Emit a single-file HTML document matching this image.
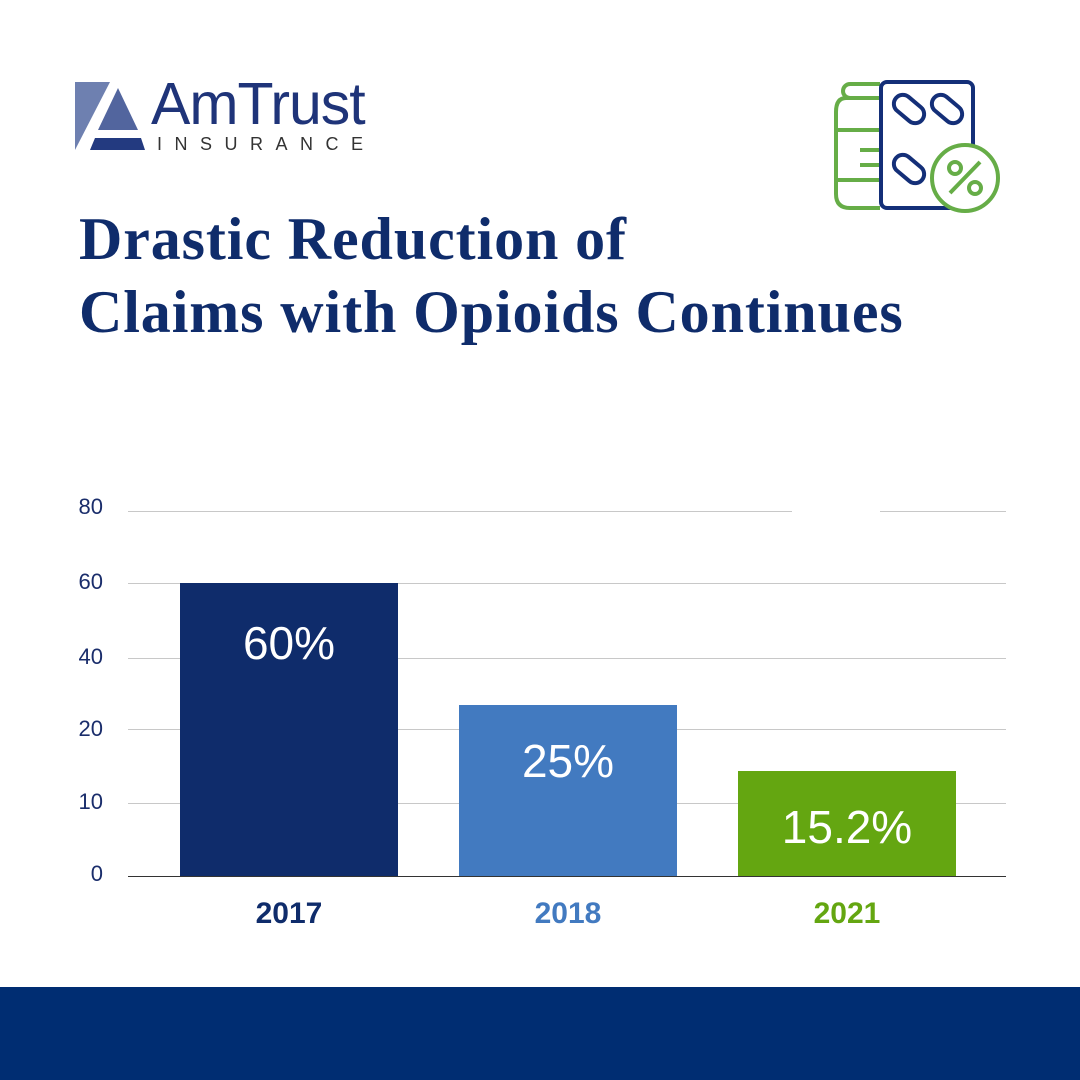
<!DOCTYPE html>
<html><head><style>
body{margin:0;width:1080px;height:1080px;background:#fff;position:relative;overflow:hidden;font-family:"Liberation Sans",sans-serif}
.t{position:absolute;left:79px;font-family:"Liberation Serif",serif;font-weight:bold;color:#0f2c6b;font-size:60px;line-height:73px;top:203px;letter-spacing:0.9px}
.g{position:absolute;left:128px;width:878px;height:1px;background:#c8c8c8}
.yl{position:absolute;left:60px;width:43px;text-align:right;color:#1a2d6b;font-size:22px}
.bar{position:absolute;width:218px;color:#fff;text-align:center;font-size:46px}
.xl{position:absolute;width:218px;text-align:center;font-size:30px;font-weight:bold;top:897px}
</style></head><body>
<svg style="position:absolute;left:0;top:0" width="1080" height="240">
<polygon points="75,82 110,82 75,150" fill="#6e80b0"/>
<polygon points="118,88 138,130 98,130" fill="#52659e"/>
<polygon points="95,138 141,138 145,150 90,150" fill="#233a80"/>
<text x="151" y="124" font-family="Liberation Sans" font-size="59" fill="#1f3479" letter-spacing="-1">AmTrust</text>
<text x="157" y="150" font-family="Liberation Sans" font-size="18" fill="#333" letter-spacing="12.5">INSURANCE</text>
<g fill="none" stroke-width="4">
<path d="M880,84 h-30 a6,6 0 0 0 0,14 M880,98 h-34 q-10,0 -10,14 v82 q0,14 14,14 h30 M836,130 h44 M836,180 h44 M860,150 h20 M860,165 h20" stroke="#66ad47"/>
<rect x="881" y="82" width="92" height="126" rx="6" stroke="#142f78" fill="#fff"/>
<g stroke="#142f78"><rect x="892" y="100" width="34" height="18" rx="9" transform="rotate(40 909 109)"/><rect x="930" y="100" width="34" height="18" rx="9" transform="rotate(40 947 109)"/><rect x="892" y="160" width="34" height="18" rx="9" transform="rotate(40 909 169)"/></g>
<circle cx="965" cy="178" r="33" stroke="#66ad47" fill="#fff"/>
<path d="M950,193 L980,162" stroke="#66ad47"/><circle cx="955" cy="168" r="6" stroke="#66ad47"/><circle cx="975" cy="188" r="6" stroke="#66ad47"/>
</g></svg>
<div class="t">Drastic Reduction of<br>Claims with Opioids Continues</div>
<div class="g" style="top:511px;width:664px"></div><div class="g" style="top:511px;left:880px;width:126px"></div>
<div class="g" style="top:583px"></div><div class="g" style="top:658px"></div><div class="g" style="top:729px"></div><div class="g" style="top:803px"></div>
<div class="yl" style="top:494px">80</div><div class="yl" style="top:569px">60</div><div class="yl" style="top:644px">40</div><div class="yl" style="top:716px">20</div><div class="yl" style="top:789px">10</div><div class="yl" style="top:861px">0</div>
<div class="bar" style="left:180px;top:583px;height:293px;background:#0f2c6b;line-height:120px">60%</div>
<div class="bar" style="left:459px;top:705px;height:171px;background:#427ac0;line-height:112px">25%</div>
<div class="bar" style="left:738px;top:771px;height:105px;background:#64a611;line-height:112px">15.2%</div>
<div class="g" style="top:876px;background:#333"></div>
<div class="xl" style="left:180px;color:#0f2c6b">2017</div>
<div class="xl" style="left:459px;color:#427ac0">2018</div>
<div class="xl" style="left:738px;color:#64a611">2021</div>
<div style="position:absolute;left:0;top:987px;width:1080px;height:93px;background:#002d72"></div>
</body></html>
